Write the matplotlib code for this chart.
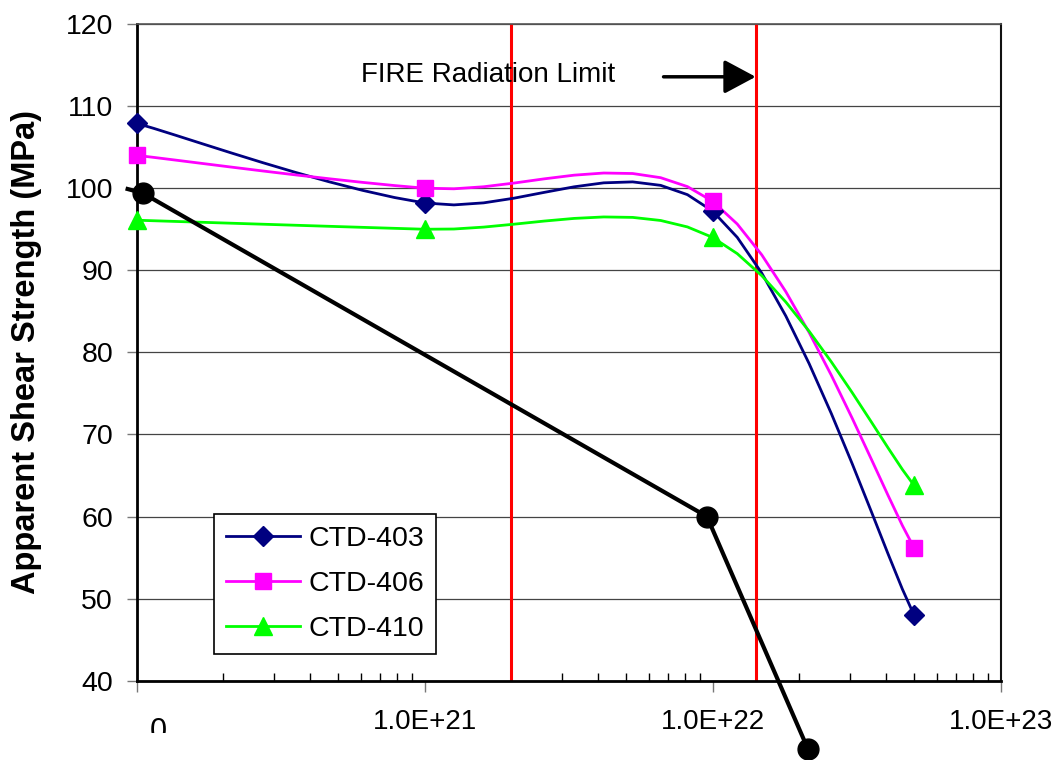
import numpy as np
import matplotlib
matplotlib.use('Agg')
import matplotlib.pyplot as plt
from matplotlib.ticker import FixedLocator, LogLocator, NullFormatter, FixedFormatter
from matplotlib.transforms import Bbox

plt.rcParams['font.family'] = ['Liberation Sans', 'DejaVu Sans']

# Dane
x_ctd = [1e20, 1e21, 1e22, 5e22]
ctd403 = [107.9, 98.2, 97.2, 48.0]
ctd406 = [104.0, 100.0, 98.4, 56.2]
ctd410 = [96.1, 95.0, 94.0, 63.8]

black_x = [0.93e20, 1.05e20, 9.55e21, 2.14e22]
black_y = [99.9, 99.4, 60.0, 31.7]

limit_x = [2.0e21, 1.41e22]

x_ticks = [1e20, 1e21, 1e22, 1e23]
x_labels = ['', '1.0E+21', '1.0E+22', '1.0E+23']
y_ticks = [40, 50, 60, 70, 80, 90, 100, 110, 120]


def excel_smooth(ax, xs, ys, n=10):
    # wygladzanie w stylu Excela (Bezier / Catmull-Rom) w pikselach
    pts = ax.transData.transform(np.column_stack([xs, ys]))
    out = [pts[0]]
    m = len(pts)
    t = np.linspace(0, 1, n + 1)[1:, None]
    for i in range(m - 1):
        p0 = pts[max(i - 1, 0)]
        p1 = pts[i]
        p2 = pts[i + 1]
        p3 = pts[min(i + 2, m - 1)]
        c1 = p1 + (p2 - p0) / 6
        c2 = p2 - (p3 - p1) / 6
        seg = ((1 - t) ** 3) * p1 + 3 * ((1 - t) ** 2) * t * c1 + 3 * (1 - t) * t ** 2 * c2 + t ** 3 * p2
        out.extend(seg)
    out = ax.transData.inverted().transform(np.array(out))
    return out[:, 0], out[:, 1]


fig = plt.figure(figsize=(10.63, 7.6), dpi=100)
ax = fig.add_axes([0.1286, 0.1043, 0.9414 - 0.1286, 0.9684 - 0.1043])
ax.set_xscale('log')
ax.set_xlim(1e20, 1e23)
ax.set_ylim(40, 120)

ax.set_yticks(y_ticks)
ax.yaxis.grid(True, color='#444444', lw=0.9)
ax.set_axisbelow(True)

ax.xaxis.set_major_locator(FixedLocator(x_ticks))
ax.xaxis.set_major_formatter(FixedFormatter(x_labels))
ax.xaxis.set_minor_locator(LogLocator(base=10, subs=np.arange(2, 10)))
ax.xaxis.set_minor_formatter(NullFormatter())

ax.tick_params(axis='x', which='major', direction='out', length=8, width=1, color='#777777',
               labelsize=20, pad=12)
ax.tick_params(axis='x', which='minor', direction='in', length=6, width=1, color='black')
ax.tick_params(axis='y', which='major', direction='out', length=7, width=1, color='#777777',
               labelsize=20.5, pad=10)

for s in ['left', 'bottom']:
    ax.spines[s].set_linewidth(2)
    ax.spines[s].set_color('black')
ax.spines['right'].set_linewidth(1.5)
ax.spines['right'].set_color('#111111')
ax.spines['top'].set_linewidth(1.2)
ax.spines['top'].set_color('#555555')

# linie graniczne
for xv in limit_x:
    ax.axvline(xv, color='#FF0000', lw=2.2, zorder=2)

# seria czarna (bez wygladzania, wychodzi poza osie)
ax.plot(black_x, black_y, color='black', lw=3, marker='o', ms=15, markevery=[1, 2, 3],
        clip_on=False, zorder=5)

series = [
    (ctd403, '#000080', 'D', 10, 'CTD-403'),
    (ctd406, '#FF00FF', 's', 11.5, 'CTD-406'),
    (ctd410, '#00FF00', '^', 13.5, 'CTD-410'),
]
handles = []
for ys, col, mk, ms, lab in series:
    sx, sy = excel_smooth(ax, x_ctd, ys)
    ax.plot(sx, sy, color=col, lw=2.0, zorder=3)
    ax.plot(x_ctd, ys, linestyle='none', marker=mk, ms=ms, color=col, zorder=4, clip_on=False)
    h, = ax.plot([], [], color=col, lw=2.0, marker=mk, ms=ms, label=lab)
    handles.append(h)

leg = ax.legend(handles=handles, loc='lower left', bbox_to_anchor=(0.09, 0.041),
                fontsize=20.5, frameon=True, fancybox=False, edgecolor='black',
                framealpha=1, handlelength=2.6, handletextpad=0.3, labelspacing=0.68,
                borderpad=0.4, borderaxespad=0)
leg.get_frame().set_linewidth(1.2)

# strzalka i opis
ax.annotate('', xy=(limit_x[1], 113.57), xytext=(6.75e21, 113.57),
            arrowprops=dict(arrowstyle='-|>,head_length=0.97,head_width=0.52',
                            mutation_scale=20, lw=2.5, color='black',
                            shrinkA=0, shrinkB=0), zorder=6)
ax.text(0.407, 0.9112, 'FIRE Radiation Limit', transform=ax.transAxes,
        ha='center', va='baseline', fontsize=20)

ax.set_ylabel('Apparent Shear Strength (MPa)', fontsize=23.5, fontweight='bold',
              va='center', ha='center')
ax.yaxis.set_label_coords(-0.128, 0.5)

# etykieta "0" przycieta u dolu
t0 = fig.text(158 / 1063, 1 - 717 / 760, '0', ha='center', va='top', fontsize=22,
              clip_on=True)
t0.set_clip_box(Bbox.from_extents(0, 27, 1063, 760))

fig.savefig('out.png', dpi=100)
